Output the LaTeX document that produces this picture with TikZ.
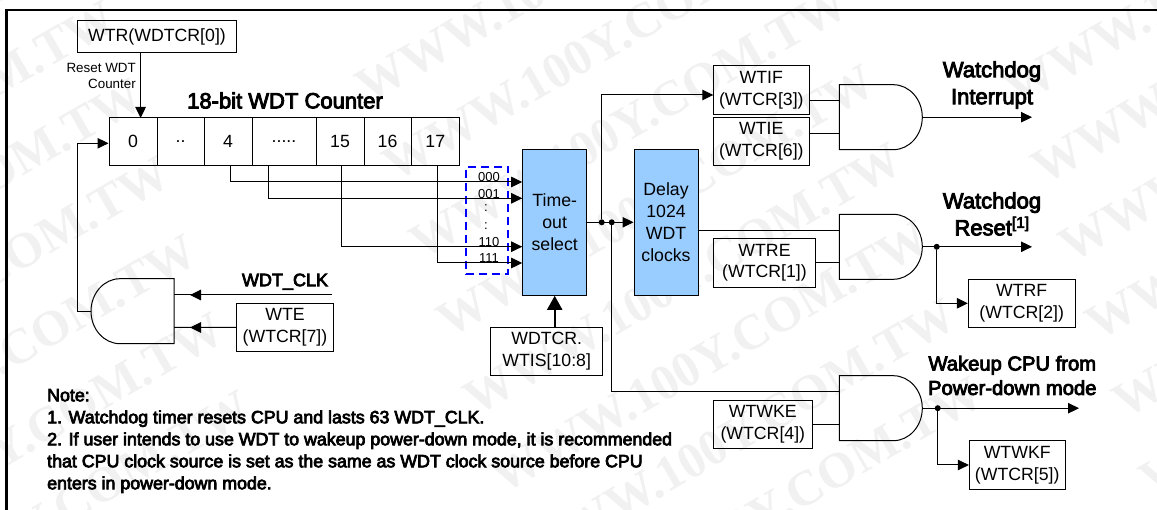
\documentclass[tikz,border=0pt]{standalone}
\usepackage{fontspec}
\setmainfont{Liberation Sans}
\newfontfamily\heavyfont[FakeBold=4]{Liberation Sans}
\newfontfamily\markfont{Liberation Serif Bold}
\usetikzlibrary{arrows.meta}
\definecolor{selblue}{HTML}{99CCFF}
\definecolor{markgray}{HTML}{F1F1F1}
\newcommand{\fewdots}{..}
\newcommand{\manydots}{.....}
\tikzset{
  andgate/.pic={
    \draw[line width=1pt] (0,0) -- (54,0) .. controls (70,0) and (83,14.6) .. (83,32.5)
      .. controls (83,50.4) and (70,65) .. (54,65) -- (0,65) -- cycle;
    \coordinate (-a) at (0,16.3);
    \coordinate (-b) at (0,48.6);
    \coordinate (-out) at (83,32.5);
  }
}
\begin{document}
\begin{tikzpicture}[
    x=1pt, y=-1pt,
    font=\fontsize{17.7}{21.9}\selectfont,
    regbox/.style={draw, line width=1pt, minimum height=48.5pt, inner sep=0pt, align=center},
    bitcell/.style={draw, line width=1pt, minimum height=48pt, inner sep=0pt},
    bluebox/.style={draw, line width=1pt, fill=selblue, minimum width=64pt, minimum height=146pt, inner sep=0pt, align=center},
    heading/.style={font=\fontsize{22}{27}\selectfont\heavyfont, align=center, inner sep=0pt},
    plainlabel/.style={inner sep=0pt},
    codelabel/.style={font=\fontsize{13}{15}\selectfont, inner sep=0pt},
    wire/.style={line width=1pt},
    flow/.style={line width=1pt, -{Triangle[length=11pt,width=10.5pt]}},
    junction/.style={circle, fill=black, minimum size=6pt, inner sep=0pt}
]
  \useasboundingbox (0,0) rectangle (1157,510);

  % ===== watermark =====
  \foreach \cx/\cy in {-157/-19, 575/-33, 1224/-30} {
    \foreach \k in {0,...,7} {
      \node[rotate=30, text=markgray, font=\fontsize{50}{50}\selectfont\markfont] (mark\cx\k) at (\cx+27*\k,\cy+78*\k) {WWW.100Y.COM.TW};
    }
  }

  % frame
  \draw[line width=2.2pt] (6.5,510) -- (6.5,10) -- (1157,10);

  % ===== counter =====
  \node[regbox, minimum width=159.5pt, minimum height=32pt] (wtr) at (157,36.5) {WTR(WDTCR[0])};
  \node[plainlabel, anchor=east, align=right, font=\fontsize{13.4}{16}\selectfont] (rstlabel) at (136,76) {Reset WDT\\Counter};
  \node[heading] (cnttitle) at (285,100.5) {18-bit WDT Counter};
  \foreach \n/\x/\w/\t in {c0/133/48/0, c1/180.5/47/\fewdots, c4/228/48/4, c5/284/64/\manydots, c15/340/48/15, c16/387.5/47/16, c17/435.25/48.5/17} {
    \node[bitcell, minimum width=\w pt] (\n) at (\x,141.5) {\t};
  }
  \draw[flow] (wtr.south -| c0.center) ++(7.6,0) -- ++(0,65);

  % ===== clock gate =====
  \pic[xscale=-1] (g0) at (174,278.7) {andgate};
  \node[plainlabel, font=\fontsize{18}{22}\selectfont\heavyfont] (clklabel) at (285,281.7) {WDT\_CLK};
  \coordinate (clkin) at (332,295);
  \node[regbox, minimum width=96.5pt] (wte) at (285,327.5) {WTE\\(WTCR[7])};
  \draw[wire] (clkin) edge[flow] (190,295) -- (g0-a);
  \draw[wire] (wte.west) edge[flow] (190,327.5) -- (g0-b);
  \coordinate (fbturn) at (77.3,143.3);
  \draw[flow] (g0-out) -| (fbturn) -- (c0.west |- fbturn);

  % ===== time-out select =====
  \node[bluebox] (tsel) at (554.7,222.3) {Time-\\out\\select};
  \node[draw=blue, line width=2pt, dash pattern=on 8pt off 5pt, minimum width=42.3pt, minimum height=107.3pt, inner sep=0pt] (selframe) at (487.2,220.3) {};
  \foreach \n/\s/\dx/\y/\t in {a/c4/2/182/000, b/c5/-16/198.3/001, c/c15/1.5/246.7/110, d/c17/1.75/263/111} {
    \coordinate (in\n) at (tsel.west |- 0,\y);
    \draw[flow] ([xshift=\dx pt]\s.south) |- (in\n);
    \node[codelabel] (code\n) at (489,\y-4.7) {\t};
  }
  \node[codelabel] (dotsa) at (486,208) {:};
  \node[codelabel] (dotsb) at (486,226) {:};
  \node[regbox, line width=1.3pt, minimum width=112pt] (wtis) at (546.7,351.6) {WDTCR.\\WTIS[10:8]};
  \draw[line width=2pt, -{Triangle[length=14pt,width=15pt]}] (wtis.north -| tsel.south) -- (tsel.south);

  % ===== delay =====
  \node[bluebox] (delay) at (666,222.3) {Delay\\1024\\WDT\\clocks};
  \node[junction] (jup) at (601.7,222.3) {};
  \node[junction] (jdown) at (611.7,222.3) {};
  \draw[flow] (tsel.east) -- (delay.west);

  % ===== interrupt =====
  \pic (g1) at (839.3,84.7) {andgate};
  \node[regbox, minimum width=96pt] (wtif) at (761.3,90) {WTIF\\(WTCR[3])};
  \node[regbox, minimum width=96pt] (wtie) at (761.3,141.7) {WTIE\\(WTCR[6])};
  \coordinate (wtifin) at (713.3,95);
  \draw[flow] (jup) |- (wtifin);
  \draw[wire] (g1-a -| wtif.east) -- (g1-a);
  \draw[wire] (g1-b -| wtie.east) -- (g1-b);
  \coordinate (intout) at (1032,117.2);
  \draw[flow] (g1-out) -- (intout);
  \node[heading] (intlabel) at (992,85) {Watchdog\\Interrupt};

  % ===== reset =====
  \pic (g2) at (839.3,214.3) {andgate};
  \node[regbox, minimum width=102.4pt] (wtre) at (764.5,262.8) {WTRE\\(WTCR[1])};
  \node[regbox, minimum width=106.7pt] (wtrf) at (1021.7,303.3) {WTRF\\(WTCR[2])};
  \draw[wire] (g2-a -| delay.east) -- (g2-a);
  \draw[wire] (g2-b -| wtre.east) -- (g2-b);
  \coordinate (rstout) at (1032,246.8);
  \node[junction] (jrst) at (936.7,246.8) {};
  \draw[flow] (g2-out) -- (rstout);
  \draw[flow] (jrst) |- (wtrf.west);
  \node[heading] (rstname) at (992,214) {Watchdog\\Reset\textsuperscript{[1]}};

  % ===== wakeup =====
  \pic (g3) at (839.3,375.7) {andgate};
  \node[regbox, minimum width=99pt] (wtwke) at (762.8,424.5) {WTWKE\\(WTCR[4])};
  \node[regbox, minimum width=95.7pt] (wtwkf) at (1017.2,465) {WTWKF\\(WTCR[5])};
  \draw[wire] (jdown) |- (g3-a);
  \draw[wire] (g3-b -| wtwke.east) -- (g3-b);
  \coordinate (wakeout) at (1079,408.2);
  \node[junction] (jwake) at (937.7,408.2) {};
  \draw[flow] (g3-out) -- (wakeout);
  \draw[flow] (jwake) |- (wtwkf.west);
  \node[heading, font=\fontsize{20.2}{24.4}\selectfont\heavyfont] (wakelabel) at (1012.3,375.5) {Wakeup CPU from\\Power-down mode};

  % ===== notes =====
  \node[plainlabel, anchor=west, align=left, font=\fontsize{17.8}{22}\selectfont\heavyfont] (notes) at (47,441) {Note:\\1. Watchdog timer resets CPU and lasts 63 WDT\_CLK.\\2. If user intends to use WDT to wakeup power-down mode, it is recommended\\that CPU clock source is set as the same as WDT clock source before CPU\\enters in power-down mode.};
\end{tikzpicture}
\end{document}
